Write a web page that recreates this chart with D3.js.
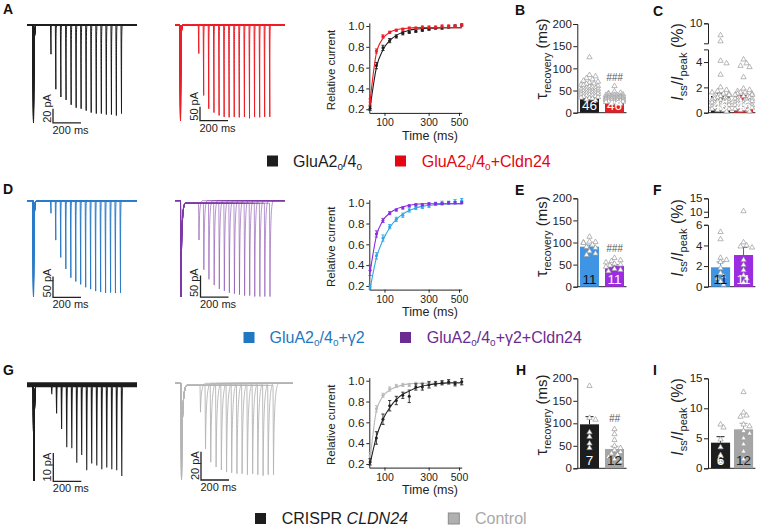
<!DOCTYPE html>
<html>
<head>
<meta charset="utf-8">
<script src="https://cdn.jsdelivr.net/npm/d3@7"></script>
<style>
  body { margin: 0; background: #fff; }
  svg { display: block; }
</style>
</head>
<body>
<svg id="fig" width="758" height="526"></svg>
<script>
// recovery from desensitization: three experiments (rows A, D, G)

var font = "Arial, 'Liberation Sans', Helvetica, sans-serif";
var ink = "#222";

// ---- shared x values (ms) and ticks ----
var intervals = [58, 75, 95, 118, 143, 170, 199, 231, 265, 302, 341, 382, 426, 471, 520];
var timeTicks = [100, 300, 500];
var relTicks = [0.2, 0.4, 0.6, 0.8, 1.0];

// ---- row A: GluA2o/4o vs +Cldn24 ----
var recGluA    = [0.21, 0.62, 0.79, 0.86, 0.90, 0.93, 0.94, 0.95, 0.96, 0.97, 0.98, 0.98, 0.99, 1.00, 1.01];
var semGluA    = [0.02, 0.03, 0.025, 0.02, 0.015, 0.015, 0.01, 0.01, 0.01, 0.01, 0.01, 0.01, 0.01, 0.01, 0.01];
var fitGluA    = [0.21, 0.60, 0.77, 0.86, 0.91, 0.94, 0.96, 0.97, 0.975, 0.98, 0.98, 0.985, 0.985, 0.985, 0.985];
var recGluACl  = [0.27, 0.76, 0.90, 0.94, 0.96, 0.97, 0.98, 0.98, 0.99, 0.99, 0.99, 1.00, 1.00, 1.00, 1.01];
var semGluACl  = [0.03, 0.02, 0.015, 0.01, 0.01, 0.01, 0.01, 0.01, 0.01, 0.01, 0.01, 0.01, 0.01, 0.01, 0.01];
var fitGluACl  = [0.28, 0.74, 0.88, 0.94, 0.965, 0.975, 0.98, 0.985, 0.985, 0.985, 0.985, 0.985, 0.985, 0.985, 0.985];

// ---- row D: +γ2 vs +γ2+Cldn24 ----
var recG2      = [0.19, 0.49, 0.66, 0.77, 0.84, 0.88, 0.93, 0.95, 0.96, 0.97, 0.99, 1.00, 1.00, 1.01, 1.02];
var semG2      = [0.02, 0.03, 0.03, 0.02, 0.02, 0.02, 0.02, 0.015, 0.015, 0.015, 0.015, 0.015, 0.015, 0.02, 0.02];
var fitG2      = [0.17, 0.47, 0.64, 0.76, 0.84, 0.89, 0.925, 0.95, 0.965, 0.975, 0.98, 0.985, 0.99, 0.99, 0.99];
var recG2Cl    = [0.35, 0.70, 0.83, 0.90, 0.93, 0.95, 0.97, 0.98, 0.98, 0.99, 0.99, 0.99, 1.00, 1.00, 1.00];
var semG2Cl    = [0.05, 0.03, 0.02, 0.015, 0.01, 0.01, 0.01, 0.01, 0.01, 0.01, 0.01, 0.01, 0.01, 0.01, 0.01];
var fitG2Cl    = [0.33, 0.68, 0.83, 0.90, 0.94, 0.96, 0.975, 0.985, 0.99, 0.99, 0.99, 0.99, 0.99, 0.99, 0.99];

// ---- row G: CRISPR CLDN24 vs control ----
var recCrispr  = [0.22, 0.45, 0.63, 0.76, 0.81, 0.86, 0.85, 0.94, 0.94, 0.96, 0.97, 0.98, 0.99, 0.97, 0.99];
var semCrispr  = [0.03, 0.06, 0.05, 0.05, 0.04, 0.03, 0.06, 0.03, 0.03, 0.03, 0.02, 0.02, 0.02, 0.02, 0.03];
var fitCrispr  = [0.20, 0.46, 0.63, 0.74, 0.82, 0.87, 0.90, 0.93, 0.95, 0.96, 0.97, 0.975, 0.98, 0.98, 0.98];
var recCtrl    = [0.28, 0.73, 0.86, 0.92, 0.95, 0.96, 0.96, 0.97, 0.97, 0.98, 0.98, 0.98, 0.98, 0.98, 0.98];
var semCtrl    = [0.03, 0.03, 0.02, 0.02, 0.015, 0.015, 0.015, 0.015, 0.015, 0.015, 0.015, 0.015, 0.015, 0.015, 0.015];
var fitCtrl    = [0.24, 0.71, 0.85, 0.91, 0.94, 0.96, 0.97, 0.975, 0.975, 0.975, 0.975, 0.975, 0.975, 0.975, 0.975];

// ---- example traces: second-pulse / first-pulse ratio, first-pulse amplitude (pA), scale bar (pA) ----
var trGluA    = [0.30, 0.66, 0.74, 0.77, 0.82, 0.85, 0.86, 0.88, 0.90, 0.91, 0.91, 0.92, 0.92, 0.93, 0.91];
var trGluACl  = [0.30, 0.74, 0.88, 0.92, 0.95, 0.965, 0.97, 0.965, 0.97, 0.965, 0.98, 0.965, 0.97, 0.965, 0.965];
var trG2      = [0.13, 0.41, 0.59, 0.71, 0.80, 0.84, 0.87, 0.90, 0.92, 0.94, 0.95, 0.96, 0.955, 0.96, 0.96];
var trG2Cl    = [0.41, 0.72, 0.82, 0.88, 0.92, 0.94, 0.96, 0.97, 0.98, 0.99, 0.99, 1.00, 1.00, 1.00, 1.00];
var trCrispr  = [0.10, 0.30, 0.46, 0.65, 0.66, 0.81, 0.73, 0.89, 0.82, 0.84, 0.88, 0.86, 0.88, 0.89, 0.95];
var trCtrl    = [0.30, 0.68, 0.82, 0.87, 0.90, 0.92, 0.93, 0.94, 0.94, 0.95, 0.94, 0.95, 0.96, 0.95, 0.95];
var firstPeakPA = [139, 340, 229, 222, 34, 68];
var scaleBarPA  = [20, 50, 50, 50, 10, 20];
var scaleBarMs  = 200;

// ---- tau recovery (ms) ----
var tauGluA = [53.5, 32.5], tauSemGluA = [2.8, 1.3];
var tauPtsGluA = [125, 85, 82, 78, 75, 72, 70, 68, 66, 65, 63, 62, 60, 59, 58, 57, 56, 55, 54, 53, 52, 51, 50, 50, 49,
                  48, 47, 46, 46, 45, 44, 43, 42, 42, 41, 40, 39, 38, 37, 36, 35, 34, 33, 32, 30, 28];
var tauPtsGluACl = [60, 48, 45, 44, 42, 41, 40, 40, 39, 38, 38, 37, 37, 36, 36, 35, 35, 35, 34, 34, 33, 33, 33, 32, 32,
                    32, 31, 31, 30, 30, 30, 29, 29, 28, 28, 27, 27, 26, 26, 25, 25, 24, 23, 22, 21, 20];
var tauG2 = [90.5, 46.8], tauSemG2 = [3.6, 2.6];
var tauPtsG2 = [113, 102, 101, 100, 99, 95, 90, 88, 80, 75, 72];
var tauPtsG2Cl = [65, 60, 58, 55, 52, 50, 48, 45, 40, 38, 35];
var tauCrispr = [97.7, 43.0], tauSemCrispr = [17, 6];
var tauPtsCrispr = [183, 112, 108, 80, 70, 55, 45];
var tauPtsCtrl = [87, 76, 63, 50, 45, 40, 36, 33, 30, 25, 20, 15];

// ---- Iss / Ipeak (%) ----
var issGluA = [1.32, 1.40], issSemGluA = [0.22, 0.16];
var issPtsGluA = [7.0, 5.5, 4.1, 3.9, 3.0, 2.0, 1.8, 1.7, 1.6, 1.5, 1.5, 1.4, 1.4, 1.3, 1.3, 1.2, 1.2, 1.1, 1.1, 1.0, 1.0, 1.0, 0.9,
                  0.9, 0.9, 0.8, 0.8, 0.8, 0.7, 0.7, 0.7, 0.6, 0.6, 0.6, 0.5, 0.5, 0.5, 0.4, 0.4, 0.4, 0.3, 0.3, 0.3, 0.2, 0.2, 0.1];
var issPtsGluACl = [4.2, 3.9, 3.7, 3.6, 2.8, 1.9, 1.8, 1.7, 1.6, 1.6, 1.5, 1.5, 1.4, 1.4, 1.3, 1.3, 1.2, 1.2, 1.1, 1.1, 1.1, 1.0, 1.0,
                    1.0, 0.9, 0.9, 0.9, 0.8, 0.8, 0.8, 0.7, 0.7, 0.7, 0.6, 0.6, 0.6, 0.5, 0.5, 0.5, 0.4, 0.4, 0.3, 0.3, 0.2, 0.2, 0.1];
var issG2 = [1.88, 3.07], issSemG2 = [0.52, 0.75];
var issPtsG2 = [5.3, 4.6, 2.8, 2.6, 2.4, 1.8, 1.3, 1.0, 0.8, 0.5, 0.2];
var issPtsG2Cl = [10.2, 4.3, 4.0, 3.9, 3.8, 2.6, 2.1, 1.6, 1.1, 0.8, 0.4];
var issCrispr = [4.27, 6.5], issSemCrispr = [1.0, 1.0];
var issPtsCrispr = [7.3, 6.8, 4.8, 3.5, 2.2, 1.0];
var issPtsCtrl = [12.7, 9.3, 8.8, 8.6, 7.3, 7.0, 6.2, 5.8, 5.0, 4.0, 2.8, 1.5];

var svg = d3.select("#fig").attr("font-family", font);

function styleAxis(g, fs) {
  g.attr("font-family", font).attr("font-size", fs);
  g.selectAll(".domain, .tick line").attr("stroke", ink).attr("stroke-width", 1);
  g.selectAll("text").attr("fill", ink);
}

// ---------- example traces ----------
function addSpike(p, x, yFrom, yPeak, yTo, w) {
  p.lineTo(x, yFrom);
  p.lineTo(x + 0.5, yPeak);
  p.bezierCurveTo(x + 0.5 + w * 0.08, yTo + (yPeak - yTo) * 0.3, x + w * 0.35, yTo, x + w, yTo);
}

function drawTrace(o) {
  var g = svg.append("g");
  var tx = d3.scaleSqrt().domain(d3.extent(intervals)).range([o.peakX + o.r0, o.peakX + o.r1]);
  var ty = d3.scaleLinear().domain([0, o.barPA]).range([o.base, o.base + o.barPx]);
  var b = ty(0), ss = o.ss || 0;
  if (o.band) {
    g.append("line").attr("x1", o.x0).attr("x2", o.x1).attr("y1", b).attr("y2", b)
      .attr("stroke", o.color).attr("stroke-width", o.band);
  }
  o.ratios.forEach(function (r, k) {
    var p = d3.path();
    p.moveTo(o.x0, b);
    addSpike(p, o.peakX, b, ty(o.amp), b + ss, o.w1);
    addSpike(p, tx(intervals[k]), b + ss, ty(o.amp * r), b, o.w);
    p.lineTo(o.x1, b);
    g.append("path").attr("d", p.toString()).attr("fill", "none")
      .attr("stroke", o.color).attr("stroke-width", o.sw).attr("stroke-opacity", o.op);
  });
  // scale bars
  var sx = o.peakX + 20, sy = ty(o.amp) + 0.5;
  var barH = ty(o.barPA) - b;
  g.append("path").attr("d", "M" + sx + "," + (sy - barH) + "V" + sy + "H" + (sx + scaleBarMs * 0.14))
    .attr("fill", "none").attr("stroke", ink).attr("stroke-width", 1.3);
  g.append("text").attr("transform", "translate(" + (sx - 2.5) + "," + sy + ") rotate(-90)")
    .attr("font-size", 11).attr("fill", ink).text(o.barPA + " pA");
  g.append("text").attr("x", sx - 0.5).attr("y", sy + 11).attr("font-size", 11).attr("fill", ink)
    .text(scaleBarMs + " ms");
}

// ---------- recovery curves ----------
function drawRecovery(dy, series) {
  var g = svg.append("g");
  var x = d3.scaleSqrt().domain([56, 520]).range([369.3, 461.7]);
  var y = d3.scaleLinear().domain([0.165, 1.03]).range([112.9 + dy, 22.9 + dy]);
  var ax = g.append("g").attr("transform", "translate(0," + (112.9 + dy) + ")")
    .call(d3.axisBottom(x).tickValues(timeTicks).tickSize(3).tickSizeOuter(0).tickPadding(3));
  styleAxis(ax, 10.5);
  var ay = g.append("g").attr("transform", "translate(369.3,0)")
    .call(d3.axisLeft(y).tickValues(relTicks).tickFormat(d3.format(".1f")).tickSize(3).tickSizeOuter(0).tickPadding(2));
  styleAxis(ay, 11.5);
  var line = d3.line()
    .x(function (d, i) { return x(intervals[i]); })
    .y(function (d) { return y(d); })
    .curve(d3.curveMonotoneX);
  series.forEach(function (s) {
    g.append("path").attr("d", line(s.fit)).attr("fill", "none").attr("stroke", s.color).attr("stroke-width", 1.1);
    s.mean.forEach(function (m, i) {
      var cx = x(intervals[i]), lo = y(m - s.sem[i]), hi = y(m + s.sem[i]);
      g.append("path")
        .attr("d", "M" + cx + "," + lo + "V" + hi + "M" + (cx - 1.6) + "," + lo + "h3.2M" + (cx - 1.6) + "," + hi + "h3.2")
        .attr("stroke", s.color).attr("stroke-width", 0.9).attr("fill", "none");
      g.append("circle").attr("cx", cx).attr("cy", y(m)).attr("r", 1.5).attr("fill", s.color);
    });
  });
  g.append("text").attr("x", 430).attr("y", 139.5 + dy).attr("text-anchor", "middle")
    .attr("font-size", 12.5).attr("fill", ink).text("Time (ms)");
  g.append("text").attr("transform", "translate(335," + (70 + dy) + ") rotate(-90)")
    .attr("text-anchor", "middle").attr("font-size", 11.5).attr("fill", ink).text("Relative current");
}

// ---------- bar + scatter panels ----------
function drawBars(o) {
  var g = svg.append("g");
  var segs = o.segs.map(function (s) {
    return { dom: s.dom, sc: d3.scaleLinear().domain(s.dom).range(s.rng), ticks: s.ticks };
  });
  function ymap(v) {
    for (var i = 0; i < segs.length; i++) {
      if (v <= segs[i].dom[1] || i === segs.length - 1) return segs[i].sc(v);
    }
  }
  var xb = d3.scaleBand().domain([0, 1]).range(o.xr).paddingInner(o.pad).paddingOuter(0.1);
  var y0 = ymap(0);
  segs.forEach(function (s) {
    var a = g.append("g").attr("transform", "translate(" + o.axisX + ",0)")
      .call(d3.axisLeft(s.sc).tickValues(s.ticks).tickFormat(d3.format("d"))
        .tickSize(4).tickSizeOuter(4).tickPadding(1.5));
    styleAxis(a, 11.5);
  });
  g.append("line").attr("x1", o.axisX).attr("x2", o.xr[1]).attr("y1", y0).attr("y2", y0)
    .attr("stroke", ink).attr("stroke-width", 1);

  var tri = d3.symbol().type(d3.symbolTriangle).size(12);
  [0, 1].forEach(function (i) {
    var bx = xb(i), bw = xb.bandwidth(), cx = bx + bw / 2, top = ymap(o.means[i]), et = ymap(o.means[i] + o.sems[i]);
    g.append("rect").attr("x", bx).attr("y", top).attr("width", bw).attr("height", y0 - top).attr("fill", o.colors[i]);
    g.append("path").attr("d", "M" + cx + "," + top + "V" + et + "M" + (cx - 4) + "," + et + "h8")
      .attr("stroke", o.colors[i]).attr("stroke-width", 1).attr("fill", "none");

    // simple beeswarm so triangles do not pile up
    var placed = [];
    var offs = [0, 3, -3, 6, -6, 8.5, -8.5, 1.5, -1.5, 4.5, -4.5, 7.5, -7.5];
    o.pts[i].slice().sort(d3.descending).forEach(function (v, k) {
      var py = ymap(v), px = cx + offs[k % 7];
      for (var j = 0; j < offs.length; j++) {
        var free = placed.every(function (q) { return Math.hypot(q[0] - (cx + offs[j]), q[1] - py) >= 4; });
        if (free) { px = cx + offs[j]; break; }
      }
      placed.push([px, py]);
      g.append("path").attr("d", tri).attr("transform", "translate(" + px + "," + py + ")")
        .attr("fill", "#fff").attr("stroke", "#9a9a9a").attr("stroke-width", 0.7);
    });

    g.append("text").attr("x", cx).attr("y", y0 - 3.2).attr("text-anchor", "middle")
      .attr("font-size", 13.5).attr("fill", o.nColors[i]).text(o.n[i]);
  });
  if (o.sig) {
    g.append("text").attr("x", xb(1) + xb.bandwidth() / 2).attr("y", o.sigY).attr("text-anchor", "middle")
      .attr("font-size", 10).attr("font-style", "italic").attr("fill", "#555").text(o.sig);
  }
}

function tauLabel(x, cy) {
  var t = svg.append("text").attr("transform", "translate(" + x + "," + cy + ") rotate(-90)")
    .attr("text-anchor", "middle").attr("fill", ink);
  t.append("tspan").attr("font-size", 16).text("τ");
  t.append("tspan").attr("font-size", 10.5).attr("dy", 3.5).text("recovery");
  t.append("tspan").attr("font-size", 15).attr("dy", -3.5).text(" (ms)");
}

function issLabel(x, cy) {
  var t = svg.append("text").attr("transform", "translate(" + x + "," + cy + ") rotate(-90)")
    .attr("text-anchor", "middle").attr("fill", ink);
  t.append("tspan").attr("font-size", 16).attr("font-style", "italic").text("I");
  t.append("tspan").attr("font-size", 11).attr("dy", 3.5).text("ss");
  t.append("tspan").attr("font-size", 16).attr("dy", -3.5).text("/");
  t.append("tspan").attr("font-size", 16).attr("font-style", "italic").text("I");
  t.append("tspan").attr("font-size", 11).attr("dy", 3.5).text("peak");
  t.append("tspan").attr("font-size", 16).attr("dy", -3.5).text(" (%)");
}

function panelLetter(t, x, y) {
  svg.append("text").attr("x", x).attr("y", y).attr("font-size", 14).attr("font-weight", "bold")
    .attr("fill", "#111").text(t);
}

function legendItem(x, y, fill, stroke, tx, parts, color) {
  svg.append("rect").attr("x", x).attr("y", y).attr("width", 11).attr("height", 11)
    .attr("fill", fill).attr("stroke", stroke || "none");
  var t = svg.append("text").attr("x", tx).attr("y", y + 11).attr("font-size", 16).attr("fill", color);
  var shifted = false;
  parts.forEach(function (p) {
    var s = t.append("tspan").text(p[0]);
    if (p[1] === "sub") { s.attr("font-size", 10).attr("dy", shifted ? 0 : 3); shifted = true; }
    else { s.attr("dy", shifted ? -3 : 0); shifted = false; }
    if (p[1] === "i") s.attr("font-style", "italic");
  });
}

// ---------- row A ----------
drawTrace({ x0: 27, x1: 137, base: 25, peakX: 33, r0: 17.5, r1: 88, amp: firstPeakPA[0], barPA: scaleBarPA[0], barPx: 14,
  ratios: trGluA, color: "#1d1d1d", sw: 1, op: 1, w1: 3, w: 1.4, ss: 0.5, band: 2.2 });
drawTrace({ x0: 175, x1: 285, base: 25, peakX: 180, r0: 18.3, r1: 89.3, amp: firstPeakPA[1], barPA: scaleBarPA[1], barPx: 14,
  ratios: trGluACl, color: "#ee1c24", sw: 1, op: 1, w1: 2.5, w: 1.3, ss: 0.3 });
drawRecovery(0, [
  { mean: recGluA, sem: semGluA, fit: fitGluA, color: "#1d1d1d" },
  { mean: recGluACl, sem: semGluACl, fit: fitGluACl, color: "#ee1c24" }
]);
drawBars({ xr: [577.5, 626.5], pad: 0.24, axisX: 577.3,
  segs: [{ dom: [0, 200], rng: [112.7, 24], ticks: [0, 50, 100, 150, 200] }],
  means: tauGluA, sems: tauSemGluA, pts: [tauPtsGluA, tauPtsGluACl], colors: ["#1d1d1d", "#e41e26"],
  n: [46, 46], nColors: ["#fff", "#fff"], sig: "###", sigY: 80.5 });
drawBars({ xr: [708.7, 755.4], pad: 0.17, axisX: 708,
  segs: [{ dom: [0, 5], rng: [112.7, 49.4], ticks: [0, 2, 4] }, { dom: [5, 10], rng: [43.3, 23.3], ticks: [10] }],
  means: issGluA, sems: issSemGluA, pts: [issPtsGluA, issPtsGluACl], colors: ["#1d1d1d", "#e41e26"],
  n: [46, 46], nColors: ["#fff", "#fff"] });
tauLabel(547, 59);
issLabel(683, 62);
legendItem(267, 155.5, "#1d1d1d", null, 293, [["GluA2"], ["o", "sub"], ["/4"], ["o", "sub"]], "#1d1d1d");
legendItem(395, 155.5, "#e30613", null, 421.7, [["GluA2"], ["o", "sub"], ["/4"], ["o", "sub"], ["+Cldn24"]], "#e30613");

// ---------- row D ----------
drawTrace({ x0: 27, x1: 137, base: 200.7, peakX: 33, r0: 17.5, r1: 87, amp: firstPeakPA[2], barPA: scaleBarPA[2], barPx: 21,
  ratios: trG2, color: "#2b7bc8", sw: 1, op: 1, w1: 3, w: 1.4, ss: 0.5 });
drawTrace({ x0: 175, x1: 285, base: 200.7, peakX: 180.5, r0: 18, r1: 89, amp: firstPeakPA[3], barPA: scaleBarPA[3], barPx: 21.6,
  ratios: trG2Cl, color: "#7b3aa5", sw: 1, op: 0.55, w1: 5, w: 4, ss: 2.5 });
drawRecovery(176.7, [
  { mean: recG2, sem: semG2, fit: fitG2, color: "#2fa7e3" },
  { mean: recG2Cl, sem: semG2Cl, fit: fitG2Cl, color: "#8a2be2" }
]);
drawBars({ xr: [577.5, 626.5], pad: 0.24, axisX: 577.3,
  segs: [{ dom: [0, 200], rng: [286.7, 198.3], ticks: [0, 50, 100, 150, 200] }],
  means: tauG2, sems: tauSemG2, pts: [tauPtsG2, tauPtsG2Cl], colors: ["#3f94e4", "#9b2ce0"],
  n: [11, 11], nColors: ["#111", "#fff"], sig: "###", sigY: 251.5 });
drawBars({ xr: [708.7, 755.4], pad: 0.17, axisX: 708,
  segs: [{ dom: [0, 6], rng: [286.7, 224.8], ticks: [0, 2, 4, 6] }, { dom: [8, 15], rng: [217.1, 198.3], ticks: [10, 15] }],
  means: issG2, sems: issSemG2, pts: [issPtsG2, issPtsG2Cl], colors: ["#3f94e4", "#9b2ce0"],
  n: [11, 11], nColors: ["#111", "#fff"] });
tauLabel(547, 236.7);
issLabel(683, 238);
legendItem(243.5, 332, "#1f78c1", null, 269.5, [["GluA2"], ["o", "sub"], ["/4"], ["o", "sub"], ["+γ2"]], "#1f78c1");
legendItem(400, 332, "#6a2c91", null, 426.7, [["GluA2"], ["o", "sub"], ["/4"], ["o", "sub"], ["+γ2+Cldn24"]], "#6a2c91");

// ---------- row G ----------
drawTrace({ x0: 27, x1: 137, base: 384.7, peakX: 33.3, r0: 18, r1: 88, amp: firstPeakPA[4], barPA: scaleBarPA[4], barPx: 28.3,
  ratios: trCrispr, color: "#1d1d1d", sw: 1.1, op: 1, w1: 3, w: 1.8, ss: 0, band: 5 });
drawTrace({ x0: 175, x1: 293, base: 383.3, peakX: 181, r0: 19, r1: 92, amp: firstPeakPA[5], barPA: scaleBarPA[5], barPx: 28.3,
  ratios: trCtrl, color: "#b5b5b5", sw: 1, op: 0.9, w1: 6, w: 6, ss: 2 });
drawRecovery(354.7, [
  { mean: recCtrl, sem: semCtrl, fit: fitCtrl, color: "#b9b9b9" },
  { mean: recCrispr, sem: semCrispr, fit: fitCrispr, color: "#222" }
]);
drawBars({ xr: [577.5, 626.5], pad: 0.24, axisX: 577.3,
  segs: [{ dom: [0, 200], rng: [468.3, 378.3], ticks: [0, 50, 100, 150, 200] }],
  means: tauCrispr, sems: tauSemCrispr, pts: [tauPtsCrispr, tauPtsCtrl], colors: ["#1d1d1d", "#a5a5a5"],
  n: [7, 12], nColors: ["#fff", "#222"], sig: "##", sigY: 422 });
drawBars({ xr: [708.7, 755.4], pad: 0.17, axisX: 708,
  segs: [{ dom: [0, 15], rng: [468.3, 378.3], ticks: [0, 5, 10, 15] }],
  means: issCrispr, sems: issSemCrispr, pts: [issPtsCrispr, issPtsCtrl], colors: ["#1d1d1d", "#a5a5a5"],
  n: [6, 12], nColors: ["#fff", "#222"] });
tauLabel(547, 415);
issLabel(683, 417);
legendItem(255, 513, "#1d1d1d", null, 281.7, [["CRISPR "], ["CLDN24", "i"]], "#1d1d1d");
legendItem(448.3, 513, "#b0b0b0", "#8a8a8a", 475, [["Control"]], "#a8a8a8");

// panel letters
panelLetter("A", 3, 14); panelLetter("B", 515, 15); panelLetter("C", 653, 16);
panelLetter("D", 3, 194); panelLetter("E", 515, 195); panelLetter("F", 653, 194.5);
panelLetter("G", 3, 375); panelLetter("H", 516, 375); panelLetter("I", 653, 375);
</script>
</body>
</html>
